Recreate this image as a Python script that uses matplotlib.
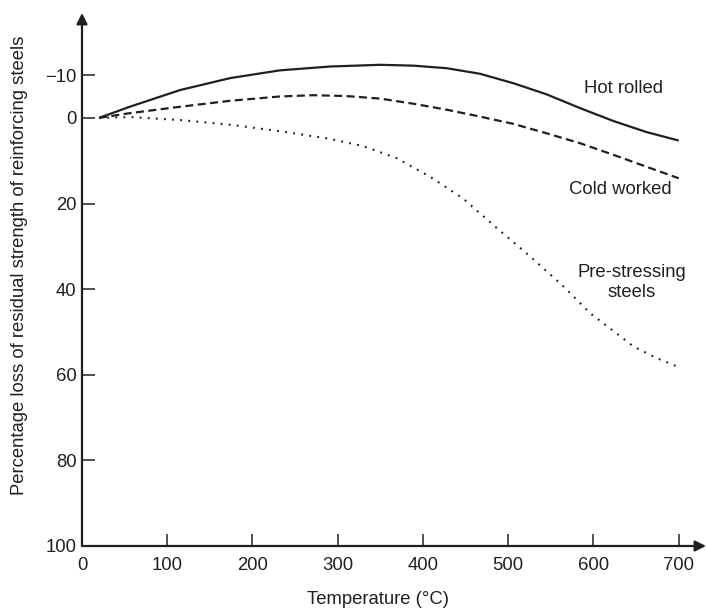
import matplotlib
matplotlib.use("Agg")
import matplotlib.pyplot as plt

plt.rcParams['font.family'] = ['Liberation Sans', 'DejaVu Sans']

# Data (temperature in °C, percentage loss; negative = gain)
hot_T = [20, 56, 115, 174, 232, 291, 350, 389, 428, 467, 506, 545, 584, 623, 662, 700]
hot_loss = [0, -2.6, -6.5, -9.3, -11.1, -12.0, -12.4, -12.2, -11.6, -10.3, -8.1,
            -5.5, -2.3, 0.7, 3.3, 5.3]

cold_T = [20, 56, 115, 174, 232, 271, 310, 350, 389, 428, 467, 506, 545, 584, 623, 662, 700]
cold_loss = [0, -1.1, -2.6, -4.0, -5.0, -5.3, -5.1, -4.5, -3.3, -1.9, -0.3, 1.4, 3.6,
             5.9, 8.6, 11.4, 14.1]

pre_T = [20, 56, 115, 174, 232, 291, 330, 369, 408, 447, 487, 526, 565, 596, 647, 674, 700]
pre_loss = [0, -0.2, 0.5, 1.6, 3.1, 4.9, 6.6, 9.4, 13.7, 18.8, 25.8, 32.4, 39.4,
            45.6, 53.4, 56.1, 58.2]

x_ticks = [0, 100, 200, 300, 400, 500, 600, 700]
y_ticks = [-10, 0, 20, 40, 60, 80, 100]
y_ticklabels = ['\u221210', '0', '20', '40', '60', '80', '100']

ink = '#231f20'
fs = 13.3

fig = plt.figure(figsize=(7.06, 6.11), dpi=100)
ax = fig.add_axes([82/706, 65/611, 624/706, 533/611])

ax.plot(hot_T, hot_loss, color=ink, lw=1.6, solid_capstyle='butt', solid_joinstyle='round')
ax.plot(cold_T, cold_loss, color=ink, lw=1.6, linestyle=(0, (3.6, 2.0)))
ax.plot(pre_T, pre_loss, color=ink, lw=1.5, linestyle=(0, (0.9, 3.0)))

ax.set_xlim(0, 732)
ax.set_ylim(100, -24.5)

for s in ax.spines.values():
    s.set_visible(False)

ax.set_xticks(x_ticks)
ax.set_xticklabels([str(t) for t in x_ticks])
ax.set_yticks(y_ticks)
ax.set_yticklabels(y_ticklabels)
ax.tick_params(axis='both', direction='in', length=9, width=1.1, color=ink,
               labelsize=fs, labelcolor=ink)
ax.tick_params(axis='x', pad=8)
ax.tick_params(axis='y', pad=4)

# axes with arrow heads
ax.annotate('', xy=(1.0, 0), xytext=(0, 0), xycoords='axes fraction',
            arrowprops=dict(arrowstyle='-|>', lw=1.6, color=ink,
                            mutation_scale=16, shrinkA=0, shrinkB=0))
ax.annotate('', xy=(0, 1.0), xytext=(0, 0), xycoords='axes fraction',
            arrowprops=dict(arrowstyle='-|>', lw=1.6, color=ink,
                            mutation_scale=16, shrinkA=0, shrinkB=0))

ax.text(635, -6.8, 'Hot rolled', ha='center', va='center', fontsize=fs, color=ink)
ax.text(632, 16.8, 'Cold worked', ha='center', va='center', fontsize=fs, color=ink)
ax.text(645, 38.5, 'Pre-stressing\nsteels', ha='center', va='center', fontsize=fs,
        color=ink, linespacing=1.25)

fig.text(378/706, 1 - 600/611, 'Temperature (\u00b0C)', ha='center', va='center',
         fontsize=fs, color=ink)
fig.text(20/706, 1 - 265/611,
         'Percentage loss of residual strength of reinforcing steels',
         rotation=90, ha='center', va='center', fontsize=fs, color=ink)

fig.savefig('out.png', dpi=100)
